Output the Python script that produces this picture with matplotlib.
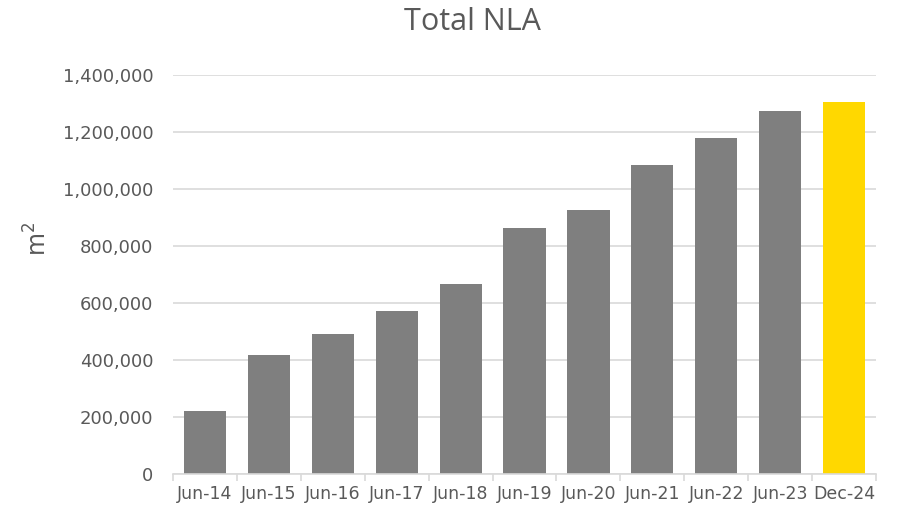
import matplotlib
matplotlib.use("Agg")
import matplotlib.pyplot as plt
from matplotlib.ticker import FuncFormatter

# data
periods = ["Jun-14", "Jun-15", "Jun-16", "Jun-17", "Jun-18", "Jun-19",
           "Jun-20", "Jun-21", "Jun-22", "Jun-23", "Dec-24"]
nla = [219000, 418000, 490000, 570000, 666000, 862000,
       925000, 1085000, 1178000, 1273000, 1306000]
yticks = [0, 200000, 400000, 600000, 800000, 1000000, 1200000, 1400000]

GREY = "#7f7f7f"
YELLOW = "#ffd800"
TEXT = "#595959"
GRID = "#d9d9d9"

colors = [GREY] * (len(periods) - 1) + [YELLOW]

fig = plt.figure(figsize=(9.02, 5.09), dpi=100)
ax = fig.add_axes([0.1918, 0.0697, 0.9712 - 0.1918, 0.852 - 0.0697])

x = list(range(len(periods)))
ax.bar(x, nla, width=0.66, color=colors, zorder=3)

ax.set_xlim(-0.5, len(periods) - 0.5)
ax.set_ylim(0, 1400000)
ax.set_yticks(yticks)
ax.yaxis.set_major_formatter(FuncFormatter(lambda v, p: f"{int(v):,}"))
ax.grid(axis="y", color=GRID, linewidth=1.2, zorder=0)

ax.set_xticks(x)
ax.set_xticklabels(periods)
ax.set_xticks([i - 0.5 for i in range(len(periods) + 1)], minor=True)
ax.tick_params(axis="x", which="major", length=0, pad=8, labelsize=12.5, labelcolor=TEXT)
ax.tick_params(axis="x", which="minor", length=5, width=1.2, color=GRID)
ax.tick_params(axis="y", length=0, pad=14, labelsize=13, labelcolor=TEXT)

for s in ["top", "right", "left"]:
    ax.spines[s].set_visible(False)
ax.spines["bottom"].set_color(GRID)
ax.spines["bottom"].set_linewidth(1.2)
ax.spines["bottom"].set_zorder(4)

fig.text(0.042, 0.53, "m$^2$", rotation=90, ha="center", va="center",
         fontsize=17, color=TEXT)
fig.text(0.524, 0.957, "Total NLA", ha="center", va="center",
         fontsize=22, color=TEXT, family=["Open Sans", "DejaVu Sans"])

fig.savefig("out.png", dpi=100)
